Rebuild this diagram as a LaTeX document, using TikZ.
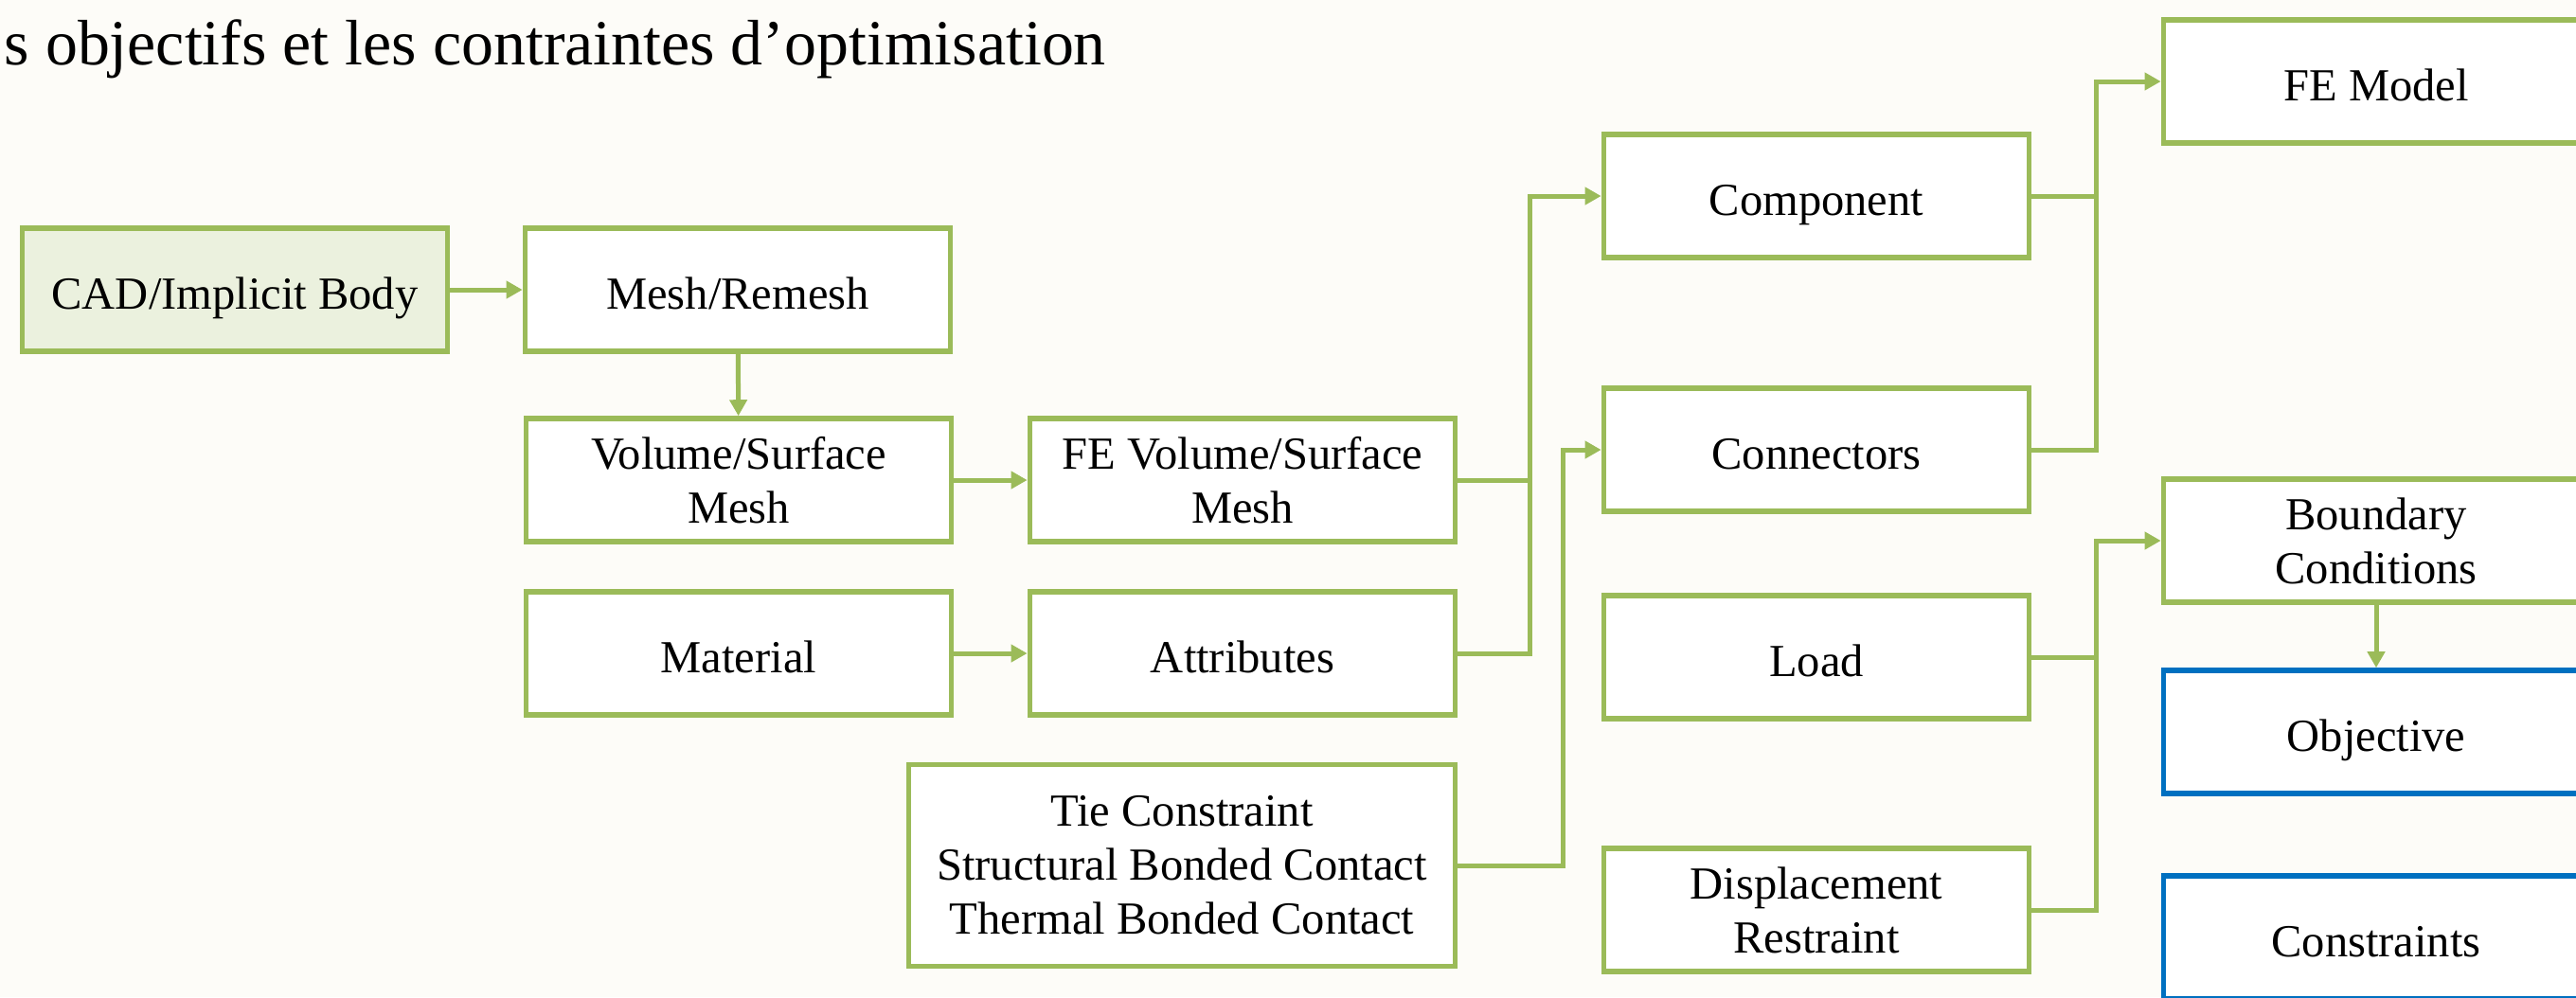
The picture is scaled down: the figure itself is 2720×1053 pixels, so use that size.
\documentclass[tikz,border=0pt]{standalone}
\usepackage{fontspec}
\setmainfont{Liberation Serif}
\usetikzlibrary{arrows.meta}

\definecolor{olive}{HTML}{9BBB59}
\definecolor{lightolive}{HTML}{EBF1DE}
\definecolor{accentblue}{HTML}{0070C0}
\definecolor{paper}{HTML}{FDFCF8}

\tikzset{
  box/.style={draw=olive, line width=0.055cm, fill=white, rectangle,
    minimum width=4.49cm, minimum height=1.30cm, inner sep=0pt,
    align=center, font=\fontsize{13.8pt}{16.2pt}\selectfont},
  oneline/.style={text height=0.40cm, text depth=0cm},
  widebox/.style={box, minimum width=5.77cm, minimum height=2.13cm},
  goalbox/.style={box, draw=accentblue},
  startbox/.style={box, fill=lightolive},
  link/.style={draw=olive, line width=0.05cm, line join=miter},
  flow/.style={link, -{Triangle[length=0.17cm, width=0.18cm]}},
}

\begin{document}
\begin{tikzpicture}[x=0.01cm, y=-0.01cm]
  \clip (0,0) rectangle (2720,1053);
  \fill[paper] (0,0) rectangle (2720,1053);

  \node[anchor=base west, inner sep=0pt, font=\fontsize{19.3pt}{23pt}\selectfont] (title) at (4,68)
    {s objectifs et les contraintes d’optimisation};

  % pre-processing chain
  \node[startbox, oneline] (cad)   at (248,306)  {CAD/Implicit Body};
  \node[box, oneline]      (mesh)  at (779,306)  {Mesh/Remesh};
  \node[box]               (vol)   at (780,507)  {Volume/Surface\\Mesh};
  \node[box]               (fevol) at (1312,507) {FE Volume/Surface\\Mesh};
  \node[box, oneline]      (mat)   at (780,690)  {Material};
  \node[box, oneline]      (attr)  at (1312,690) {Attributes};
  \node[widebox]           (tie)   at (1248,914) {Tie Constraint\\Structural Bonded Contact\\Thermal Bonded Contact};

  % model assembly
  \node[box, oneline] (comp) at (1918,207) {Component};
  \node[box, oneline] (conn) at (1918,475) {Connectors};
  \node[box, oneline] (load) at (1918,694) {Load};
  \node[box]          (disp) at (1918,961) {Displacement\\Restraint};

  % optimisation set-up
  \node[box, oneline]     (fem) at (2509,86)  {FE Model};
  \node[box]              (bc)  at (2509,571) {Boundary\\Conditions};
  \node[goalbox, oneline] (obj) at (2509,773) {Objective};
  \node[goalbox, oneline] (con) at (2509,990) {Constraints};

  % bus lines
  \coordinate (busA) at (1615,0);
  \coordinate (busB) at (1650,0);
  \coordinate (busC) at (2213,0);

  \draw[flow] (cad) -- (mesh);
  \draw[flow] (mesh) -- (vol);
  \draw[flow] (vol) -- (fevol);
  \draw[flow] (mat) -- (attr);

  \draw[link] (fevol.east) -- (fevol.east -| busA);
  \draw[flow] (attr.east) -- (attr.east -| busA) |- (comp.west);
  \draw[flow] (tie.east) -- (tie.east -| busB) |- (conn.west);

  \draw[link] (comp.east) -- (comp.east -| busC);
  \draw[flow] (conn.east) -- (conn.east -| busC) |- (fem.west);
  \draw[link] (load.east) -- (load.east -| busC);
  \draw[flow] (disp.east) -- (disp.east -| busC) |- (bc.west);

  \draw[flow] (bc) -- (obj);
\end{tikzpicture}
\end{document}
